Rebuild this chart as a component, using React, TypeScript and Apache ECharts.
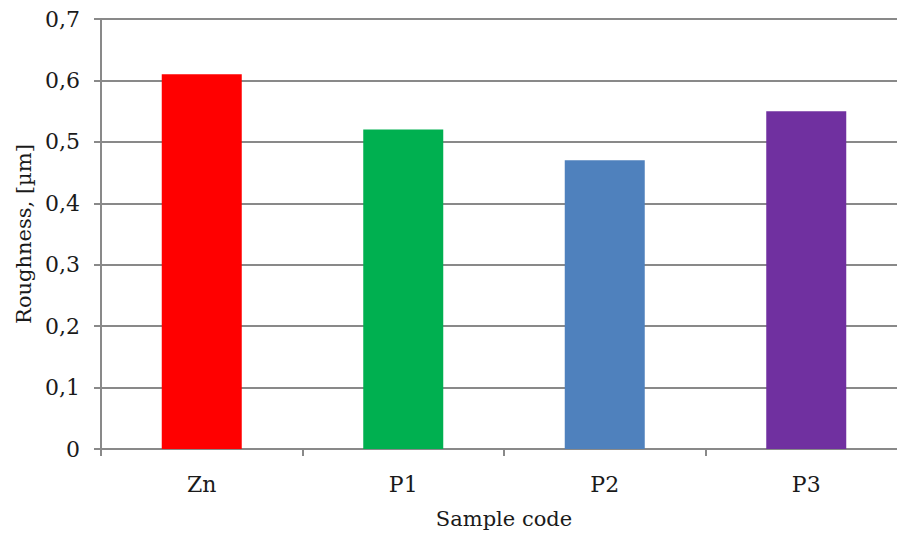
import React, { useEffect, useRef } from "react";
import * as echarts from "echarts";

const categories = ["Zn", "P1", "P2", "P3"];
const roughness = [0.61, 0.52, 0.47, 0.55];
const barColors = ["#ff0000", "#00b050", "#4f81bd", "#7030a0"];
const yTicks = [0, 0.1, 0.2, 0.3, 0.4, 0.5, 0.6, 0.7];

const FONT = "DejaVu Serif";
const FS_LABEL = 22;
const FS_NAME = 21;
const TXT = "#1a1a1a";
const GRAY = "#898989";

export default function App() {
  const ref = useRef<HTMLDivElement>(null);
  useEffect(() => {
    if (!ref.current) return;
    const chart = echarts.init(ref.current, undefined, { renderer: "svg" });
    chart.setOption({
      animation: false,
      backgroundColor: "#ffffff",
      textStyle: { fontFamily: FONT },
      grid: { left: 101, right: 0, top: 19, bottom: 87, containLabel: false },
      xAxis: {
        type: "category",
        data: categories,
        name: "Sample code",
        nameLocation: "middle",
        nameGap: 59,
        nameTextStyle: { fontFamily: FONT, fontSize: FS_NAME, color: TXT },
        axisLine: { lineStyle: { color: GRAY, width: 2 } },
        axisTick: { show: true, length: 7, lineStyle: { color: GRAY, width: 2 }, alignWithLabel: false },
        axisLabel: { fontFamily: FONT, fontSize: FS_LABEL, color: TXT, margin: 24 },
        splitLine: { show: false },
      },
      yAxis: {
        type: "value",
        min: 0,
        max: yTicks[yTicks.length - 1],
        interval: 0.1,
        name: "Roughness, [µm]",
        nameLocation: "middle",
        nameGap: 67,
        nameTextStyle: { fontFamily: FONT, fontSize: FS_NAME, color: TXT },
        axisLine: { show: true, lineStyle: { color: GRAY, width: 2 } },
        axisTick: { show: true, length: 7, lineStyle: { color: GRAY, width: 2 } },
        axisLabel: {
          fontFamily: FONT,
          fontSize: FS_LABEL,
          color: TXT,
          margin: 21,
          formatter: (v: number) => (v === 0 ? "0" : v.toFixed(1).replace(".", ",")),
        },
        splitLine: { show: true, lineStyle: { color: GRAY, width: 2 } },
      },
      series: [
        {
          type: "bar",
          data: roughness.map((v, i) => ({ value: v, itemStyle: { color: barColors[i] } })),
          barWidth: 80,
        },
      ],
    });
    return () => chart.dispose();
  }, []);
  return (
    <div
      style={{
        position: "absolute",
        left: 0,
        top: 0,
        width: 897,
        height: 536,
        overflow: "hidden",
        background: "#ffffff",
      }}
    >
      <div ref={ref} style={{ width: 907, height: 536 }} />
    </div>
  );
}
